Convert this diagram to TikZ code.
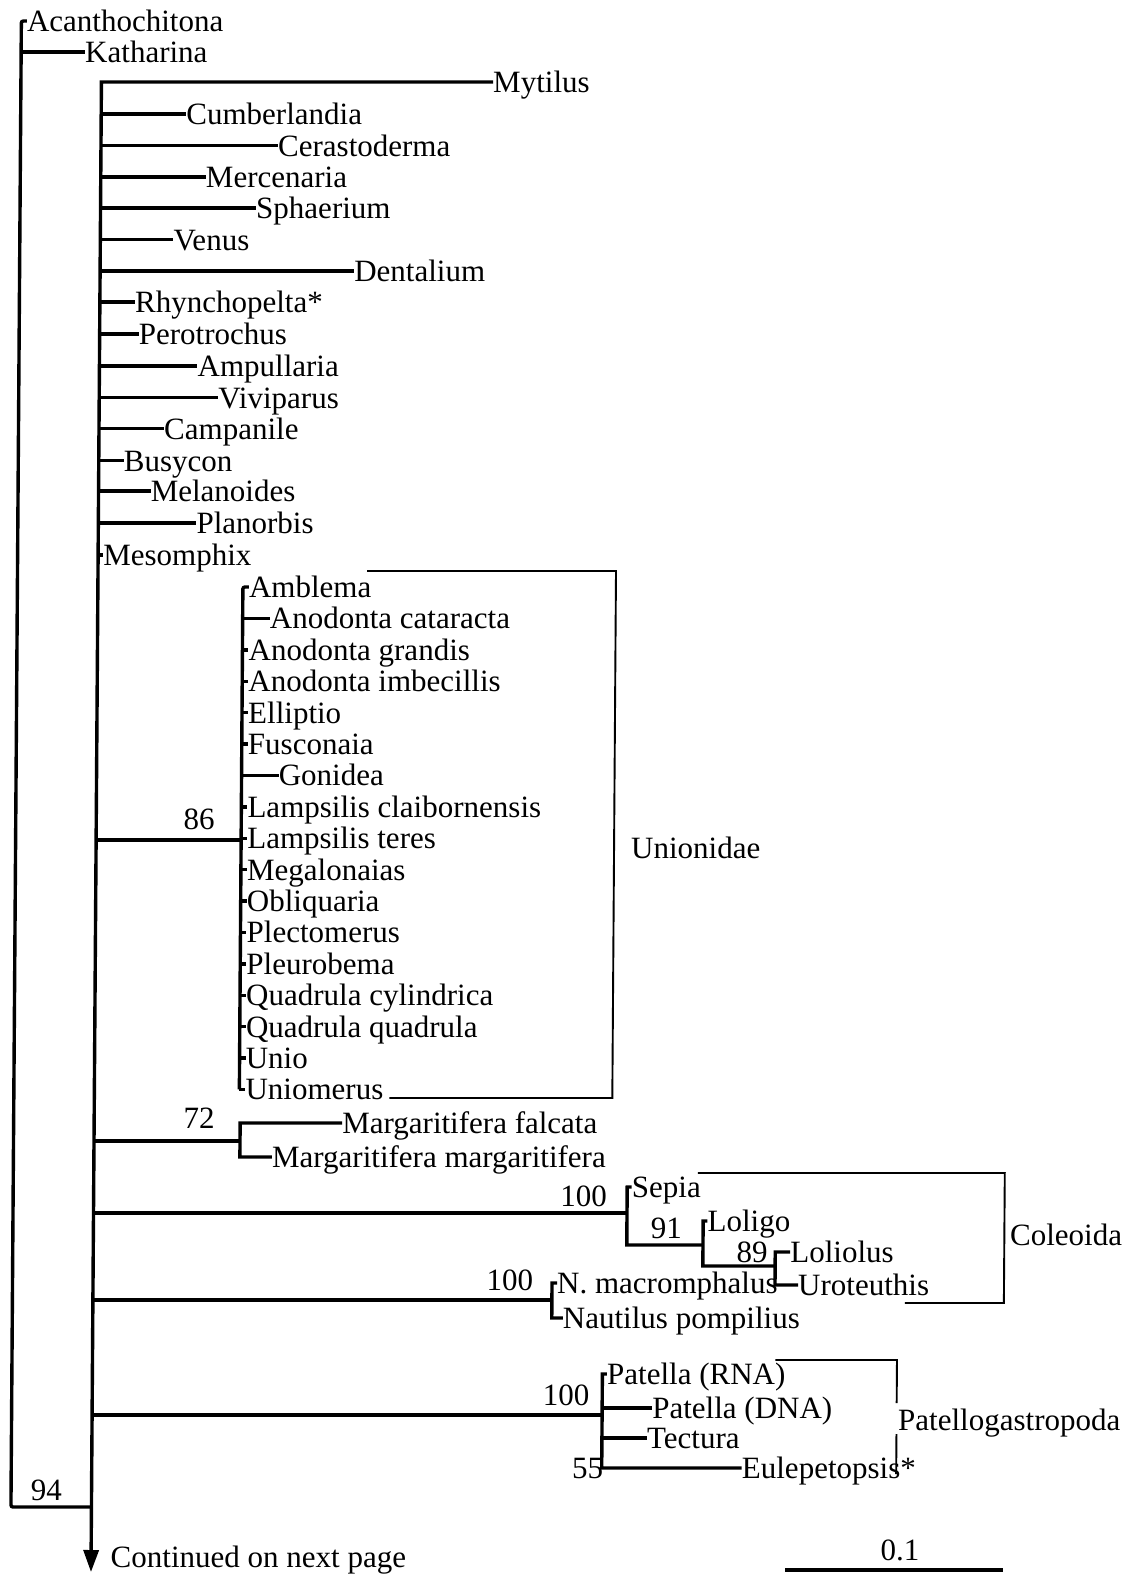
\documentclass[tikz,border=0pt]{standalone}
\usepackage{fontspec}
\setmainfont{Liberation Serif}
\usetikzlibrary{arrows.meta}

\tikzset{
  branch/.style={line width=3.4pt, line join=miter},
  bracket/.style={line width=1.9pt},
  leaf/.style={anchor=base west, inner sep=0pt, yshift=-10.5pt,
    font=\fontsize{31}{36}\selectfont},
  support/.style={anchor=base, inner sep=0pt, font=\fontsize{31}{36}\selectfont},
  cladename/.style={anchor=base west, inner sep=0pt, font=\fontsize{31}{36}\selectfont},
}

% one terminal branch: name, stem x, tip x, y, label
\newcommand\leafline[5]{%
  \coordinate (#1-s) at (#2,#4);
  \coordinate (#1) at (#3,#4);
  \draw[branch] (#1-s) -- (#1);
  \node[leaf] (#1-t) at (#1) {#5};%
}

\begin{document}
\begin{tikzpicture}[x=1pt, y=-1pt]
\fill[white] (0,0) rectangle (1137,1577);
\useasboundingbox (0,0) rectangle (1137,1577);

\begin{scope}[xslant=0.007]
% ---------- root and outgroups ----------
\coordinate (acan) at (27,21);
\coordinate (root-top) at (21.5,21);
\coordinate (root-bot) at (21.5,1507);
\coordinate (ing-bot) at (102,1507);
\draw[branch, rounded corners=2pt] (acan) -- (root-top) -- (root-bot) -- (ing-bot);
\node[leaf] (acan-t) at (acan) {Acanthochitona};
\node[support] (s94) at (57,1500) {94};

\leafline{kath}{21.5}{85.4}{52}{Katharina}

% ---------- ingroup stem ----------
\coordinate (myt) at (493.6,82);
\coordinate (ing-top) at (102,82);
\coordinate (ing-end) at (102,1572);
\draw[branch, -{Triangle[width=15pt,length=22pt]}] (myt) -- (ing-top) -- (ing-end);
\node[leaf] (myt-t) at (myt) {Mytilus};
\node[anchor=base west, inner sep=0pt, font=\fontsize{31}{36}\selectfont]
  (cont) at (121.5,1567) {Continued on next page};

\leafline{cumb}{102}{187}{114}{Cumberlandia}
\leafline{cer}{102}{279}{145.5}{Cerastoderma}
\leafline{merc}{102}{207}{177}{Mercenaria}
\leafline{sph}{102}{257.5}{208}{Sphaerium}
\leafline{ven}{102}{175}{239.5}{Venus}
\leafline{dent}{102}{356}{271}{Dentalium}
\leafline{rhyn}{102}{137}{302}{Rhynchopelta*}
\leafline{pero}{102}{141}{334}{Perotrochus}
\leafline{amp}{102}{200}{366}{Ampullaria}
\leafline{viv}{102}{221}{397.5}{Viviparus}
\leafline{camp}{102}{167}{428.5}{Campanile}
\leafline{busy}{102}{127}{460.5}{Busycon}
\leafline{mel}{102}{154}{491}{Melanoides}
\leafline{plan}{102}{200}{523}{Planorbis}
\leafline{meso}{102}{107}{555}{Mesomphix}

% ---------- Unionidae ----------
\coordinate (u-s) at (102,840);
\coordinate (u-mid) at (247,840);
\draw[branch] (u-s) -- (u-mid);
\node[support] (s86) at (205,829) {86};
\coordinate (amb) at (253,587);
\coordinate (u-top) at (247,587);
\coordinate (u-bot) at (247,1089.4);
\draw[branch, rounded corners=2pt] (amb) -- (u-top) -- (u-bot);
\node[leaf] (amb-t) at (amb) {Amblema};
\leafline{acat}{247}{274}{618.4}{Anodonta cataracta}
\leafline{agra}{247}{253}{649.8}{Anodonta grandis}
\leafline{aimb}{247}{253}{681.2}{Anodonta imbecillis}
\leafline{ell}{247}{253}{712.6}{Elliptio}
\leafline{fus}{247}{253}{744}{Fusconaia}
\leafline{gon}{247}{284}{775.4}{Gonidea}
\leafline{lcla}{247}{253}{806.8}{Lampsilis claibornensis}
\leafline{lter}{247}{253}{838.2}{Lampsilis teres}
\leafline{meg}{247}{253}{869.6}{Megalonaias}
\leafline{obl}{247}{253}{901}{Obliquaria}
\leafline{ple}{247}{253}{932.4}{Plectomerus}
\leafline{pleu}{247}{253}{963.8}{Pleurobema}
\leafline{qcyl}{247}{253}{995.2}{Quadrula cylindrica}
\leafline{qqua}{247}{253}{1026.6}{Quadrula quadrula}
\leafline{unio}{247}{253}{1058}{Unio}
\leafline{unim}{247}{253}{1089.4}{Uniomerus}

\coordinate (ub1) at (371,571);
\coordinate (ub2) at (620,571);
\coordinate (ub3) at (620,1098);
\coordinate (ub4) at (397,1098);
\draw[bracket] (ub1) -- (ub2) -- (ub3) -- (ub4);
\node[cladename] (unionidae) at (637,858) {Unionidae};

% ---------- Margaritifera ----------
\coordinate (m-s) at (102,1141);
\coordinate (m) at (248,1141);
\draw[branch] (m-s) -- (m);
\node[support] (s72) at (207,1128) {72};
\coordinate (m-top) at (248,1123);
\coordinate (m-bot) at (248,1157);
\coordinate (mfal) at (350,1123);
\coordinate (mmar) at (280,1157);
\draw[branch] (mfal) -- (m-top) -- (m-bot) -- (mmar);
\node[leaf] (mfal-t) at (mfal) {Margaritifera falcata};
\node[leaf] (mmar-t) at (mmar) {Margaritifera margaritifera};

% ---------- Coleoida ----------
\coordinate (ceph-s) at (102,1213);
\coordinate (ceph) at (635.5,1213);
\draw[branch] (ceph-s) -- (ceph);
\node[support] (s100c) at (592,1206) {100};
\coordinate (sepia) at (640,1187);
\coordinate (ceph-top) at (635.5,1187);
\coordinate (ceph-bot) at (635.5,1245);
\coordinate (lol) at (711.7,1245);
\draw[branch] (sepia) -- (ceph-top) -- (ceph-bot) -- (lol);
\node[leaf] (sepia-t) at (sepia) {Sepia};
\node[support] (s91) at (675,1238) {91};
\coordinate (loligo) at (716,1221);
\coordinate (lol-top) at (711.7,1221);
\coordinate (lol-bot) at (711.7,1266);
\coordinate (lu) at (784,1266);
\draw[branch] (loligo) -- (lol-top) -- (lol-bot) -- (lu);
\node[leaf] (loligo-t) at (loligo) {Loligo};
\node[support] (s89) at (761,1262) {89};
\coordinate (loliolus) at (799,1252);
\coordinate (lu-top) at (784,1252);
\coordinate (lu-bot) at (784,1285);
\coordinate (uro) at (807,1285);
\draw[branch] (loliolus) -- (lu-top) -- (lu-bot) -- (uro);
\node[leaf] (loliolus-t) at (loliolus) {Loliolus};
\node[leaf] (uro-t) at (uro) {Uroteuthis};

\coordinate (cb1) at (706,1173);
\coordinate (cb2) at (1013,1173);
\coordinate (cb3) at (1013,1303);
\coordinate (cb4) at (914,1303);
\draw[bracket] (cb1) -- (cb2) -- (cb3) -- (cb4);
\node[cladename] (coleoida) at (1018.6,1245) {Coleoida};

% ---------- Nautilus ----------
\coordinate (naut-s) at (102,1300);
\coordinate (naut) at (561,1300);
\draw[branch] (naut-s) -- (naut);
\node[support] (s100n) at (519,1290) {100};
\coordinate (nmac) at (566,1283);
\coordinate (naut-top) at (561,1283);
\coordinate (naut-bot) at (561,1318);
\coordinate (npom) at (572,1318);
\draw[branch] (nmac) -- (naut-top) -- (naut-bot) -- (npom);
\node[leaf] (nmac-t) at (nmac) {N. macromphalus};
\node[leaf] (npom-t) at (npom) {Nautilus pompilius};

% ---------- Patellogastropoda ----------
\coordinate (pat-s) at (102,1415);
\coordinate (pat) at (612,1415);
\draw[branch] (pat-s) -- (pat);
\node[support] (s100p) at (576,1405) {100};
\coordinate (prna) at (616.6,1374);
\coordinate (pat-top) at (612,1374);
\coordinate (pat-bot) at (612,1468);
\coordinate (eule) at (752,1468);
\draw[branch] (prna) -- (pat-top) -- (pat-bot) -- (eule);
\node[leaf] (prna-t) at (prna) {Patella (RNA)};
\node[leaf] (eule-t) at (eule) {Eulepetopsis*};
\leafline{pdna}{612}{662}{1408}{Patella (DNA)}
\leafline{tect}{612}{657}{1438}{Tectura}
\node[support] (s55) at (598,1478) {55};

\coordinate (pb1) at (785,1360);
\coordinate (pb2) at (906.5,1360);
\coordinate (pb3) at (906.5,1403);
\coordinate (pb4) at (906.5,1434);
\coordinate (pb5) at (906.5,1474);
\draw[bracket] (pb1) -- (pb2) -- (pb3);
\draw[bracket] (pb4) -- (pb5);
\node[cladename] (patello) at (908,1430) {Patellogastropoda};

% ---------- scale bar ----------
\coordinate (sb1) at (796,1570);
\coordinate (sb2) at (1014,1570);
\draw[line width=4pt] (sb1) -- (sb2);
\node[support] (scale) at (911,1560) {0.1};
\end{scope}
\end{tikzpicture}
\end{document}
